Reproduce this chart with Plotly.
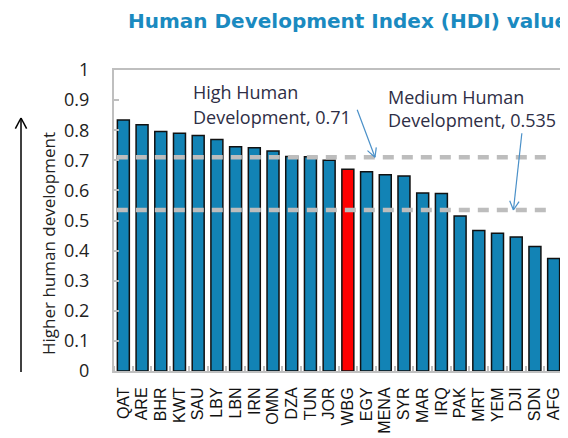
import math
import plotly.graph_objects as go

# ---- data ----
countries = ["QAT", "ARE", "BHR", "KWT", "SAU", "LBY", "LBN", "IRN", "OMN", "DZA", "TUN", "JOR",
             "WBG", "EGY", "MENA", "SYR", "MAR", "IRQ", "PAK", "MRT", "YEM", "DJI", "SDN", "AFG"]
hdi = [0.834, 0.818, 0.796, 0.790, 0.782, 0.769, 0.745, 0.742, 0.731, 0.713, 0.712, 0.700,
       0.670, 0.662, 0.652, 0.648, 0.591, 0.590, 0.515, 0.467, 0.458, 0.445, 0.414, 0.374]
highlight = "WBG"
high_threshold = 0.71
medium_threshold = 0.535
title_text = "Human Development Index (HDI) value"
y_title = "Higher human development"
high_label = ["High Human", "Development, 0.71"]
medium_label = ["Medium Human", "Development, 0.535"]

# ---- geometry (page pixels; the page body adds an 8px offset) ----
W, H = 568, 438
OFF = 8
PL, PR, PT, PB = 114, 563, 70, 371  # plot box in page pixels
L, T = PL - OFF, PT - OFF
R = W - (PR - OFF)
B = H - (PB - OFF)
pw, ph = PR - PL, PB - PT
n = len(countries)

def d2px(x, y):
    return PL + (x + 0.5) / n * pw, PT + (1 - y) * ph

def px2paper(px, py):
    return (px - PL) / pw, (PB - py) / ph

BAR_BLUE = "#1283B5"
colors = ["#FF0000" if c == highlight else BAR_BLUE for c in countries]

fig = go.Figure()
fig.add_trace(go.Bar(
    x=list(range(n)), y=hdi,
    marker=dict(color=colors, line=dict(color="#111111", width=1.5)),
    width=0.64, showlegend=False, hoverinfo="x+y",
))

shapes = []
for v in (high_threshold, medium_threshold):
    shapes.append(dict(type="line", xref="x", yref="y", x0=-0.35, x1=22.8, y0=v, y1=v,
                       line=dict(color="#BDBDBD", width=4.5, dash="11px,8px"), layer="above"))

def arrow_paths(tail_px, head_px, color, width, hl=10):
    tx, ty = tail_px
    hx, hy = head_px
    dx, dy = hx - tx, hy - ty
    ln = math.hypot(dx, dy)
    ux, uy = dx / ln, dy / ln
    out = []
    segs = [(tail_px, head_px)]
    for ang in (math.radians(28), -math.radians(28)):
        bx = -ux * math.cos(ang) + uy * math.sin(ang)
        by = -uy * math.cos(ang) - ux * math.sin(ang)
        segs.append((head_px, (hx + bx * hl, hy + by * hl)))
    for (a, b) in segs:
        pa = px2paper(*a)
        pb = px2paper(*b)
        out.append(dict(type="line", xref="paper", yref="paper",
                        x0=pa[0], y0=pa[1], x1=pb[0], y1=pb[1],
                        line=dict(color=color, width=width)))
    return out

shapes += arrow_paths(d2px(12.5, 0.868), d2px(13.45, high_threshold), "#4A90C8", 1.2)
shapes += arrow_paths(d2px(21.3, 0.79), d2px(20.85, medium_threshold), "#4A90C8", 1.2)
shapes += arrow_paths((21, 372), (21, 118), "#000000", 1.5, hl=12)

annotations = []
tx, ty = px2paper(126, 21)
annotations.append(dict(text="<b>" + title_text + "</b>", xref="paper", yref="paper",
                        x=tx, y=ty, xanchor="left", yanchor="middle", showarrow=False,
                        font=dict(family="DejaVu Sans", size=20, color="#1A8AC0")))
ax_, ay_ = px2paper(48, 244)
annotations.append(dict(text=y_title, xref="paper", yref="paper", x=ax_, y=ay_,
                        textangle=-90, showarrow=False, xanchor="center", yanchor="middle",
                        font=dict(family="Open Sans", size=17, color="#222222")))
for lines, x0, ys in ((high_label, 191, (92, 117)), (medium_label, 386, (97, 120))):
    for txt, yy in zip(lines, ys):
        px_, py_ = px2paper(x0, yy)
        annotations.append(dict(text=txt, xref="paper", yref="paper", x=px_, y=py_,
                                xanchor="left", yanchor="middle", showarrow=False,
                                font=dict(family="Open Sans", size=18, color="#2E2E45")))

fig.update_layout(
    width=W, height=H,
    margin=dict(l=L, r=R, t=T, b=B, pad=0, autoexpand=False),
    paper_bgcolor="white", plot_bgcolor="white",
    shapes=shapes, annotations=annotations,
    xaxis=dict(range=[-0.5, n - 0.5], tickmode="array", tickvals=list(range(n)),
               ticktext=countries, tickangle=-90, ticks="", showgrid=False,
               showline=True, linecolor="#BFBFBF", linewidth=2, mirror=True,
               tickfont=dict(family="Liberation Sans", size=16, color="#111111"),
               ticklabelstandoff=8, zeroline=False, automargin=False,
               minor=dict(tick0=0.5, dtick=1, ticks="inside", ticklen=5,
                          tickcolor="#BFBFBF", tickwidth=1.5, showgrid=False)),
    yaxis=dict(range=[0, 1], dtick=0.1, tick0=0, ticks="inside", ticklen=5,
               tickcolor="#BFBFBF", tickwidth=1.5, showgrid=False, zeroline=False,
               showline=True, linecolor="#BFBFBF", linewidth=2, mirror=True,
               tickfont=dict(family="Open Sans", size=18, color="#222222"),
               ticklabelstandoff=19, automargin=False),
    bargap=0.36,
)

fig.write_html("out.html")
